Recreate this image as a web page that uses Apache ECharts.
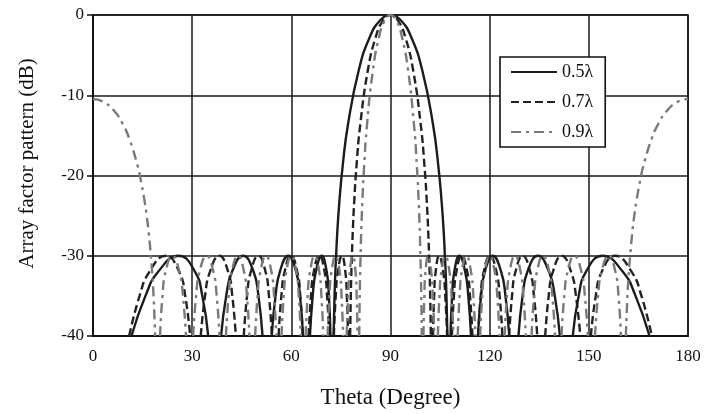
<!DOCTYPE html>
<html>
<head>
<meta charset="utf-8">
<script src="https://cdn.jsdelivr.net/npm/echarts@6/dist/echarts.min.js"></script>
<style>
html,body{margin:0;padding:0;background:#fff;}
#chart{width:704px;height:414px;}
</style>
</head>
<body>
<div id="chart"></div>
<script>
// ---- data (theta in degrees, pattern in dB; null = curve leaves the plot below -40 dB)
const seriesNames = ['0.5\u03bb', '0.7\u03bb', '0.9\u03bb'];
const xTickMin = 0, xTickMax = 180, xTickStep = 30;
const yTickMin = -40, yTickMax = 0, yTickStep = 10;

const theta05 = [
  11.64, 15.87, 19.71, 25.87, 30.87, 33.07, 34.86, null,
  38.74, 40.30, 42.05, 45.41, 48.59, 50.05, 51.29, null,
  54.07, 55.22, 56.52, 59.07, 61.47, 62.61, 63.54, null,
  65.63, 66.47, 67.41, 69.17, 70.70, 71.35, 71.85, null,
  72.78, 73.07, 73.32, 73.55, 73.87, 74.53, 75.52, 77.16, 80.41, 83.62, 86.82, 90,
  93.18, 96.38, 99.59, 102.84, 104.48, 105.47, 106.13, 106.45, 106.68, 106.93, 107.22, null,
  108.15, 108.65, 109.30, 110.83, 112.59, 113.53, 114.37, null,
  116.46, 117.39, 118.53, 120.93, 123.48, 124.78, 125.93, null,
  128.71, 129.95, 131.41, 134.59, 137.95, 139.70, 141.26, null,
  145.14, 146.93, 149.13, 154.13, 160.29, 164.13, 168.36
];
const db05 = [
  -40, -35, -32, -30, -32, -35, -40, null,
  -40, -35, -32, -30, -32, -35, -40, null,
  -40, -35, -32, -30, -32, -35, -40, null,
  -40, -35, -32, -30, -32, -35, -40, null,
  -40, -35, -32, -30, -27.29, -23.27, -18.85, -13.59, -6.86, -2.86, -0.69, 0,
  -0.69, -2.86, -6.86, -13.59, -18.85, -23.27, -27.29, -30, -32, -35, -40, null,
  -40, -35, -32, -30, -32, -35, -40, null,
  -40, -35, -32, -30, -32, -35, -40, null,
  -40, -35, -32, -30, -32, -35, -40, null,
  -40, -35, -32, -30, -32, -35, -40
];

const theta07 = [
  10.94, 14.09, 17.05, 22.01, 26.08, 27.90, 29.38, null,
  32.60, 33.90, 35.37, 38.20, 40.88, 42.14, 43.20, null,
  45.61, 46.60, 47.74, 50.01, 52.19, 53.23, 54.12, null,
  56.14, 56.99, 57.97, 59.91, 61.80, 62.70, 63.46, null,
  65.22, 65.95, 66.79, 68.46, 70.06, 70.81, 71.44, null,
  72.86, 73.43, 74.08, 75.29, 76.34, 76.79, 77.14, null,
  77.79, 77.99, 78.17, 78.33, 78.56, 79.02, 79.71, 80.87, 83.16, 85.45, 87.73, 90,
  92.27, 94.55, 96.84, 99.13, 100.29, 100.98, 101.44, 101.67, 101.83, 102.01, 102.21, null,
  102.86, 103.21, 103.66, 104.71, 105.92, 106.57, 107.14, null,
  108.56, 109.19, 109.94, 111.54, 113.21, 114.05, 114.78, null,
  116.54, 117.30, 118.20, 120.09, 122.03, 123.01, 123.86, null,
  125.88, 126.77, 127.81, 129.99, 132.26, 133.40, 134.39, null,
  136.80, 137.86, 139.12, 141.80, 144.63, 146.10, 147.40, null,
  150.62, 152.10, 153.92, 157.99, 162.95, 165.91, 169.06
];
const db07 = [
  -40, -35, -32, -30, -32, -35, -40, null,
  -40, -35, -32, -30, -32, -35, -40, null,
  -40, -35, -32, -30, -32, -35, -40, null,
  -40, -35, -32, -30, -32, -35, -40, null,
  -40, -35, -32, -30, -32, -35, -40, null,
  -40, -35, -32, -30, -32, -35, -40, null,
  -40, -35, -32, -30, -27.29, -23.27, -18.85, -13.59, -6.86, -2.86, -0.69, 0,
  -0.69, -2.86, -6.86, -13.59, -18.85, -23.27, -27.29, -30, -32, -35, -40, null,
  -40, -35, -32, -30, -32, -35, -40, null,
  -40, -35, -32, -30, -32, -35, -40, null,
  -40, -35, -32, -30, -32, -35, -40, null,
  -40, -35, -32, -30, -32, -35, -40, null,
  -40, -35, -32, -30, -32, -35, -40, null,
  -40, -35, -32, -30, -32, -35, -40
];

const theta09 = [
  0, 3, 6.38, 9.02, 11.05, 13.54, 14.27, 15.64, 16.29, 16.90, 17.49, 17.88, 18.32, 18.80, null,
  20.28, 21.02, 21.96, 24.00, 26.14, 27.21, 28.13, null,
  30.28, 31.19, 32.24, 34.36, 36.43, 37.42, 38.27, null,
  40.22, 41.03, 41.96, 43.85, 45.69, 46.57, 47.33, null,
  49.06, 49.79, 50.64, 52.32, 53.98, 54.78, 55.46, null,
  57.03, 57.70, 58.46, 60.01, 61.52, 62.25, 62.88, null,
  64.32, 64.93, 65.64, 67.05, 68.44, 69.10, 69.67, null,
  70.98, 71.52, 72.15, 73.41, 74.62, 75.19, 75.67, null,
  76.75, 77.19, 77.68, 78.61, 79.42, 79.76, 80.03, null,
  80.54, 80.69, 80.83, 80.95, 81.12, 81.48, 82.02, 82.91, 84.69, 86.46, 88.23, 90,
  91.77, 93.54, 95.31, 97.09, 97.98, 98.52, 98.88, 99.05, 99.17, 99.31, 99.46, null,
  99.97, 100.24, 100.58, 101.39, 102.32, 102.81, 103.25, null,
  104.33, 104.81, 105.38, 106.59, 107.85, 108.48, 109.02, null,
  110.33, 110.90, 111.56, 112.95, 114.36, 115.07, 115.68, null,
  117.12, 117.75, 118.48, 119.99, 121.54, 122.30, 122.97, null,
  124.54, 125.22, 126.02, 127.68, 129.36, 130.21, 130.94, null,
  132.67, 133.43, 134.31, 136.15, 138.04, 138.97, 139.78, null,
  141.73, 142.58, 143.57, 145.64, 147.76, 148.81, 149.72, null,
  151.87, 152.79, 153.86, 156.00, 158.04, 158.98, 159.72, null,
  161.20, 161.68, 162.12, 162.51, 163.10, 163.71, 164.36, 165.73, 166.46, 168.95, 170.98, 173.62, 177, 180
];
const db09 = [
  -10.46, -10.78, -11.94, -13.59, -15.48, -18.85, -20.19, -23.27, -25.15, -27.29, -30, -32, -35, -40, null,
  -40, -35, -32, -30, -32, -35, -40, null,
  -40, -35, -32, -30, -32, -35, -40, null,
  -40, -35, -32, -30, -32, -35, -40, null,
  -40, -35, -32, -30, -32, -35, -40, null,
  -40, -35, -32, -30, -32, -35, -40, null,
  -40, -35, -32, -30, -32, -35, -40, null,
  -40, -35, -32, -30, -32, -35, -40, null,
  -40, -35, -32, -30, -32, -35, -40, null,
  -40, -35, -32, -30, -27.29, -23.27, -18.85, -13.59, -6.86, -2.86, -0.69, 0,
  -0.69, -2.86, -6.86, -13.59, -18.85, -23.27, -27.29, -30, -32, -35, -40, null,
  -40, -35, -32, -30, -32, -35, -40, null,
  -40, -35, -32, -30, -32, -35, -40, null,
  -40, -35, -32, -30, -32, -35, -40, null,
  -40, -35, -32, -30, -32, -35, -40, null,
  -40, -35, -32, -30, -32, -35, -40, null,
  -40, -35, -32, -30, -32, -35, -40, null,
  -40, -35, -32, -30, -32, -35, -40, null,
  -40, -35, -32, -30, -32, -35, -40, null,
  -40, -35, -32, -30, -27.29, -25.15, -23.27, -20.19, -18.85, -15.48, -13.59, -11.94, -10.78, -10.46
];
// ---- end of data

function toPairs(t, d) {
  return t.map(function (v, i) {
    return (v === null || d[i] === null) ? ['-', '-'] : [v, d[i]];
  });
}

const FONT = "'Liberation Serif', 'Times New Roman', 'DejaVu Serif', serif";
const chart = echarts.init(document.getElementById('chart'), null, { renderer: 'canvas' });

function lineSeries(name, t, d, color, type, z) {
  return {
    name: name,
    type: 'line',
    data: toPairs(t, d),
    showSymbol: false,
    symbol: 'none',
    smooth: 0.5,
    connectNulls: false,
    clip: true,
    z: z,
    lineStyle: { color: color, width: 2.4, type: type },
    itemStyle: { color: color }
  };
}

chart.setOption({
  animation: false,
  backgroundColor: '#fff',
  grid: {
    left: 93, right: 16, top: 15, bottom: 76,
    show: true, borderColor: '#111', borderWidth: 1.6, backgroundColor: 'transparent'
  },
  legend: {
    data: seriesNames,
    orient: 'vertical',
    left: 500, top: 57,
    padding: [6, 12, 6, 10],
    itemGap: 12,
    itemWidth: 46,
    itemHeight: 14,
    backgroundColor: '#fff',
    borderColor: '#111',
    borderWidth: 1.6,
    borderRadius: 0,
    itemStyle: { opacity: 0 },
    textStyle: { fontFamily: FONT, fontSize: 18, color: '#111' }
  },
  xAxis: {
    type: 'value',
    min: xTickMin, max: xTickMax, interval: xTickStep,
    name: 'Theta (Degree)',
    nameLocation: 'middle',
    nameGap: 50,
    nameTextStyle: { fontFamily: FONT, fontSize: 23, color: '#111' },
    axisLine: { show: true, onZero: false, lineStyle: { color: '#111', width: 2 } },
    axisTick: { show: false },
    axisLabel: { fontFamily: FONT, fontSize: 17, color: '#111', margin: 12 },
    splitLine: { show: true, lineStyle: { color: '#1a1a1a', width: 1.5 } }
  },
  yAxis: {
    type: 'value',
    min: yTickMin, max: yTickMax, interval: yTickStep,
    name: 'Array factor pattern (dB)',
    nameLocation: 'middle',
    nameGap: 55,
    nameTextStyle: { fontFamily: FONT, fontSize: 21, color: '#111', padding: [0, 0, 0, 24] },
    axisLine: { show: true, onZero: false, lineStyle: { color: '#111', width: 2 } },
    axisTick: { show: true, length: 6, lineStyle: { color: '#111', width: 1.5 } },
    axisLabel: { fontFamily: FONT, fontSize: 17, color: '#111', margin: 9 },
    splitLine: { show: true, lineStyle: { color: '#1a1a1a', width: 1.5 } }
  },
  series: [
    lineSeries(seriesNames[0], theta05, db05, '#1c1c1c', 'solid', 4),
    lineSeries(seriesNames[1], theta07, db07, '#222222', [8, 4], 3),
    lineSeries(seriesNames[2], theta09, db09, '#7a7a7a', [10, 5, 3, 5], 5)
  ]
});
</script>
</body>
</html>
